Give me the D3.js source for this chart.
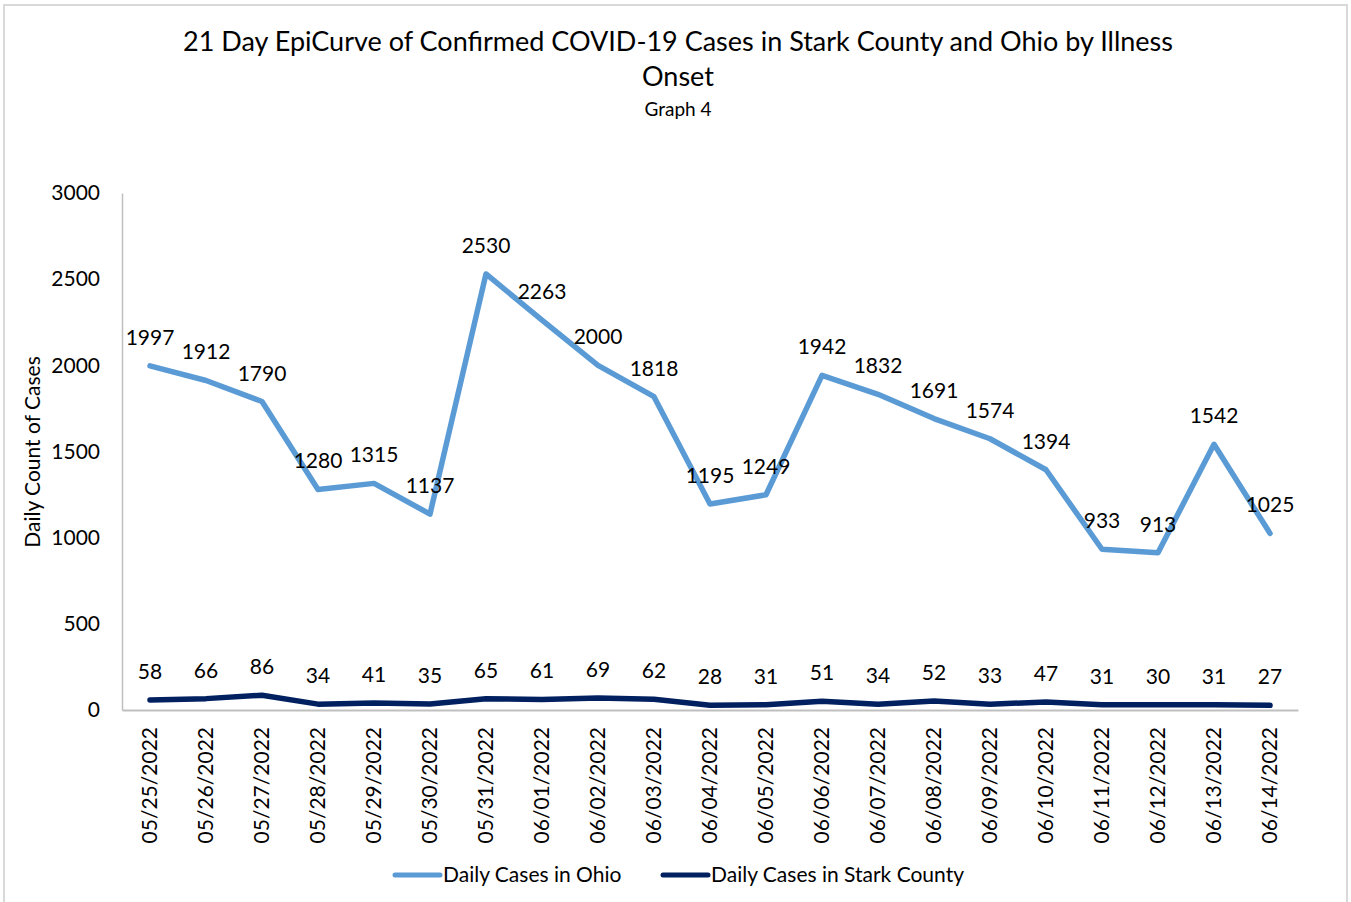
<!DOCTYPE html>
<html lang="en">
<head>
  <meta charset="utf-8">
  <title>21 Day EpiCurve</title>
  <script src="https://d3js.org/d3.v7.min.js"></script>
  <style>
    body { margin: 0; background: #fff; }
    text { font-family: Lato, "Open Sans", sans-serif; fill: #000; }
  </style>
</head>
<body>
<script>
  var dates = ["05/25/2022","05/26/2022","05/27/2022","05/28/2022","05/29/2022","05/30/2022","05/31/2022",
               "06/01/2022","06/02/2022","06/03/2022","06/04/2022","06/05/2022","06/06/2022","06/07/2022",
               "06/08/2022","06/09/2022","06/10/2022","06/11/2022","06/12/2022","06/13/2022","06/14/2022"];
  var ohio = [1997,1912,1790,1280,1315,1137,2530,2263,2000,1818,1195,1249,1942,1832,1691,1574,1394,933,913,1542,1025];
  var stark = [58,66,86,34,41,35,65,61,69,62,28,31,51,34,52,33,47,31,30,31,27];
  var yTicks = [0,500,1000,1500,2000,2500,3000];
  var seriesNames = ["Daily Cases in Ohio","Daily Cases in Stark County"];
  var seriesColors = ["#5B9BD5","#002060"];

  var w = 1351, h = 902;
  var plotLeft = 122, plotRight = 1298, plotTop = 193, plotBottom = 710;

  var svg = d3.select("body").append("svg")
    .attr("width", w).attr("height", h);

  // outer frame
  svg.append("rect")
    .attr("x", 4).attr("y", 5).attr("width", w - 8).attr("height", h + 10)
    .attr("fill", "none").attr("stroke", "#d9d9d9").attr("stroke-width", 2);

  var x = d3.scaleBand().domain(dates).range([plotLeft, plotRight]);
  var y = d3.scaleLinear().domain([0, 3000]).range([plotBottom, plotTop]);
  function cx(d) { return x(d) + x.bandwidth() / 2; }

  // title
  svg.append("text").attr("x", 678).attr("y", 51).attr("text-anchor", "middle")
    .attr("font-size", "27px").text("21 Day EpiCurve of Confirmed COVID-19 Cases in Stark County and Ohio by Illness");
  svg.append("text").attr("x", 678).attr("y", 86).attr("text-anchor", "middle")
    .attr("font-size", "27px").text("Onset");
  svg.append("text").attr("x", 678).attr("y", 116).attr("text-anchor", "middle")
    .attr("font-size", "19px").text("Graph 4");

  // y axis
  var yAxis = svg.append("g").attr("transform", "translate(" + plotLeft + ",0)")
    .call(d3.axisLeft(y).tickValues(yTicks).tickSize(0).tickPadding(22).tickFormat(d3.format("d")));
  yAxis.select(".domain").attr("stroke", "#bfbfbf").attr("stroke-width", 1.5);
  yAxis.selectAll("text").attr("font-size", "21px").attr("fill", "#000");

  // x axis
  var xAxis = svg.append("g").attr("transform", "translate(0," + plotBottom + ")")
    .call(d3.axisBottom(x).tickSize(0).tickSizeOuter(0));
  xAxis.select(".domain").attr("stroke", "#bfbfbf").attr("stroke-width", 2);
  xAxis.selectAll("text")
    .attr("font-size", "21px").attr("fill", "#000")
    .attr("transform", "rotate(-90)")
    .attr("text-anchor", "end").attr("x", -17).attr("y", 0).attr("dy", "0.35em");

  svg.append("text")
    .attr("transform", "translate(40,452) rotate(-90)")
    .attr("text-anchor", "middle").attr("font-size", "21px")
    .text("Daily Count of Cases");

  var line = d3.line().x(function(d, i) { return cx(dates[i]); }).y(function(d) { return y(d); });

  [ohio, stark].forEach(function(s, k) {
    svg.append("path").datum(s)
      .attr("d", line).attr("fill", "none")
      .attr("stroke", seriesColors[k]).attr("stroke-width", 5.5)
      .attr("stroke-linecap", "round").attr("stroke-linejoin", "round");
    svg.selectAll(".lbl" + k).data(s).enter().append("text")
      .attr("class", "lbl" + k)
      .attr("x", function(d, i) { return cx(dates[i]); })
      .attr("y", function(d) { return y(d) - 21; })
      .attr("text-anchor", "middle").attr("font-size", "21px")
      .text(function(d) { return d; });
  });

  // legend
  var legX = [395, 663];
  seriesNames.forEach(function(n, k) {
    svg.append("line").attr("x1", legX[k]).attr("x2", legX[k] + 45)
      .attr("y1", 875).attr("y2", 875)
      .attr("stroke", seriesColors[k]).attr("stroke-width", 5).attr("stroke-linecap", "round");
    svg.append("text").attr("x", legX[k] + 48).attr("y", 882)
      .attr("font-size", "21px").text(n);
  });
</script>
</body>
</html>
